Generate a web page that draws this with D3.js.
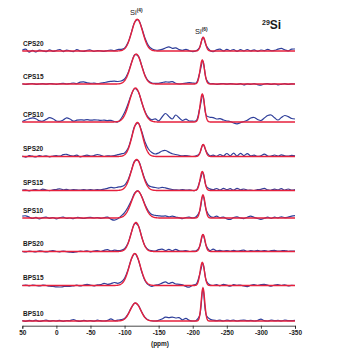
<!DOCTYPE html>
<html>
<head>
<meta charset="utf-8">
<script src="https://cdn.jsdelivr.net/npm/d3@7"></script>
<style>
  body { margin: 0; background: #fff; }
  text { font-family: 'Liberation Sans', Arial, sans-serif; fill: #1a1a1a; }
</style>
</head>
<body>
<div id="chart"></div>
<script>
// samples, top to bottom
const samples = ['CPS20', 'CPS15', 'CPS10', 'SPS20', 'SPS15', 'SPS10', 'BPS20', 'BPS15', 'BPS10']

// chemical shift grid of the measured spectra (ppm), 50 -> -350 step 5
const shifts = d3.range(50, -351, -5)
const xTicks = [50, 0, -50, -100, -150, -200, -250, -300, -350]

// measured spectra (a.u.), one value per shift
const expCPS20 = [
  0.8, 1.8, -1.2, 0.6, -1.0, 0.8, 0.2, -0.6, 1.2, -0.4,
  0.5, 1.5, -0.6, 0.9, 0.1, -0.6, 1.3, 0.0, -0.4, 0.7,
  1.0, -0.5, 0.4, 0.2, -0.4, 0.5, 0.8, 0.3, 1.5, 1.6,
  2.8, 8.3, 18.4, 29.0, 31.2, 23.5, 12.8, 5.4, 2.2, 1.0,
  0.8, 1.6, 3.0, 4.2, 2.6, 3.2, 1.4, 0.6, 1.6, 0.3,
  -0.6, 0.3, 3.4, 13.6, 5.2, 0.8, -0.6, 1.2, 1.8, 0.1,
  1.6, 0.3, 1.5, -0.3, 1.4, 0.2, 1.5, 0.1, 1.2, -0.3,
  1.0, 0.4, 1.6, 0.3, 0.6, 1.8, 2.6, 1.2, 0.2, 1.8,
  2.0]
const expCPS15 = [
  0.3, -0.5, 0.2, 0.5, -0.3, 0.0, 0.3, -0.2, 0.5, 0.2,
  -0.3, 0.3, 0.6, 0.0, 0.5, 1.0, 0.4, 1.8, 2.2, 1.2,
  0.6, 0.9, 0.5, 0.8, 1.3, 2.2, 2.6, 2.8, 2.5, 3.0,
  5.0, 11.0, 21.0, 29.2, 28.0, 18.8, 8.6, 3.0, 1.0, 0.6,
  0.6, 1.4, 2.2, 1.8, 2.4, 0.8, 0.0, 0.5, 0.9, 1.4,
  1.0, 0.9, 10.5, 23.0, 4.4, 0.5, 0.3, -0.4, 0.2, 0.5,
  -0.2, 0.3, 0.0, -0.5, 0.3, -0.9, 0.2, -0.4, 0.3, -0.6,
  -1.2, 0.0, 0.3, -0.5, 0.2, -0.8, -0.3, 0.3, -0.5, 0.2,
  0.0]
const expCPS10 = [
  0.5, 2.0, 3.2, 4.2, 3.2, 1.2, 0.8, 2.6, 4.4, 3.2,
  1.0, 0.6, 2.0, 4.2, 3.0, 0.8, 1.8, 2.2, 1.9, 2.3,
  1.8, 2.1, 2.0, 1.6, 1.9, 1.4, 1.7, 0.5, 0.0, 3.5,
  9.5, 18.0, 27.5, 33.5, 30.5, 20.0, 10.5, 4.5, 2.2, 3.2,
  1.2, 5.0, 8.5, 5.5, 3.0, 7.0, 4.2, 1.5, 2.8, 1.0,
  0.8, 1.2, 13.0, 26.5, 6.5, 4.8, 4.4, 3.0, 3.4, 2.0,
  1.0, 0.5, -1.0, -1.8, -0.6, 0.5, 1.8, 4.0, 4.5, 2.5,
  1.5, 4.0, 6.5, 7.0, 4.2, 2.0, 4.4, 6.5, 5.4, 3.5,
  3.0]
const expSPS20 = [
  0.5, -0.6, 0.8, 0.3, -0.5, 0.9, 0.0, 0.7, -0.3, 0.5,
  0.8, 0.3, 1.8, 2.2, 0.9, 0.4, 1.3, -0.3, 0.6, 1.4,
  0.3, 0.9, 2.0, 1.2, 0.0, 0.6, 0.5, 0.9, 1.8, 2.6,
  3.6, 8.0, 18.5, 30.5, 33.5, 25.5, 14.5, 7.5, 4.0, 2.5,
  3.5, 5.5, 6.0, 4.4, 2.8, 2.0, 1.2, 0.6, 1.0, 0.4,
  0.0, 0.6, 3.0, 12.0, 4.8, 0.8, 1.4, 0.2, 2.0, 0.5,
  3.0, 0.6, 3.4, 0.5, 3.2, 0.9, 2.8, 0.6, 1.4, 0.2,
  0.8, 2.4, 0.5, 0.3, 1.5, 0.4, 1.7, 0.6, 0.4, 1.2,
  0.7]
const expSPS15 = [
  0.3, 0.6, -0.3, 0.5, 0.9, 0.2, 1.4, 0.5, -0.2, 0.6,
  1.0, 1.7, 0.7, 1.2, 0.4, 0.8, 0.6, 0.3, 0.9, 0.5,
  0.8, 0.3, 0.9, 0.6, 1.4, 2.2, 3.2, 2.6, 3.4, 3.8,
  5.4, 10.5, 20.0, 29.5, 30.0, 21.0, 11.0, 5.0, 3.6, 3.0,
  2.4, 3.2, 2.6, 1.6, 1.0, 0.6, 0.4, 0.9, 0.3, 0.6,
  0.0, 0.4, 8.5, 18.0, 4.0, 1.6, 0.8, 2.0, 0.5, 2.1,
  0.8, 1.8, 0.4, 2.2, 0.7, 1.5, 0.3, 0.4, 0.0, 0.8,
  1.2, 2.1, 0.6, 0.3, 1.4, 0.6, 1.8, 0.4, 1.5, 0.3,
  0.9]
const expSPS10 = [
  1.8, 2.2, 0.9, -0.5, 0.6, -0.9, 0.3, 0.8, -0.3, 0.5,
  -0.8, 0.3, 0.9, -0.3, 0.0, -0.6, 0.5, 0.2, -0.5, 0.3,
  0.6, 0.0, 0.5, -0.3, 0.3, 0.8, -1.2, -2.2, -0.8, 2.0,
  5.4, 10.8, 17.5, 25.0, 27.0, 21.8, 13.4, 7.0, 3.4, 2.6,
  2.2, 1.8, 2.1, 1.2, 1.9, 0.9, 0.3, -0.6, 0.5, 0.8,
  0.0, 1.2, 6.5, 22.5, 7.5, 2.0, 0.6, 1.8, 0.3, 0.9,
  -0.9, -1.4, 0.5, 1.2, 0.0, -0.6, 0.8, 1.8, 0.6, -0.5,
  -1.3, -0.3, 0.8, -0.5, 0.9, 0.2, 1.2, 0.3, 0.9, 1.8,
  2.4]
const expBPS20 = [
  0.3, -0.5, 0.5, 0.0, -0.3, 0.6, 0.2, -0.5, 0.3, 0.8,
  0.0, -0.3, 0.5, -0.2, -0.6, -0.9, -0.3, 0.5, 0.0, 0.6,
  -0.3, 0.3, 0.9, 0.0, 1.2, 1.8, 0.6, 1.3, 0.9, 1.2,
  2.8, 8.2, 19.0, 28.0, 26.0, 15.0, 5.5, 1.8, 0.8, 0.4,
  1.8, 2.4, 0.9, 2.1, 0.7, 2.2, 0.6, 0.3, 0.9, 0.0,
  0.3, 0.6, 4.8, 16.8, 5.4, 0.9, 2.4, 0.6, 1.2, 0.3,
  1.0, 0.2, 1.2, 0.3, 0.8, 1.4, 0.2, 0.9, 0.3, 1.2,
  0.4, 0.9, 0.2, 0.8, 1.2, 0.3, 0.6, 1.0, 0.2, 0.5,
  0.3]
const expBPS15 = [
  0.0, 0.5, -0.3, 0.3, 0.0, -0.5, 0.3, 0.0, -0.6, -0.9,
  -1.3, -1.5, -1.2, -0.8, -0.9, -0.3, 0.3, -0.5, 0.5, 1.2,
  0.5, -0.3, 0.6, 0.9, 2.2, 1.2, 1.8, 3.0, 2.2, 3.4,
  7.2, 15.5, 26.5, 31.8, 26.0, 14.0, 4.8, 0.6, -1.0, 0.3,
  0.9, 2.4, 3.6, 2.0, 3.2, 1.5, 1.2, 0.6, -1.0, -1.6,
  0.3, 1.4, 10.5, 22.0, 4.6, 0.8, 0.0, 0.9, -0.3, 1.2,
  0.3, -0.6, 0.8, 0.2, 0.5, -0.5, -1.2, 0.3, 0.9, 0.0,
  0.8, 1.2, 0.3, -0.6, 0.5, 0.9, 0.0, 0.6, -0.3, 0.2,
  0.0]
const expBPS10 = [
  0.5, -0.3, 0.6, 0.0, 0.8, -0.5, 0.3, 0.9, -0.2, 0.5,
  0.0, 0.6, -0.3, 0.5, 0.3, 1.5, 0.2, -0.3, 0.6, 0.0,
  0.5, -0.2, 0.8, 0.3, 0.0, 0.6, 2.2, 0.5, 0.9, 1.4,
  2.6, 6.8, 13.4, 17.8, 15.8, 9.2, 3.6, 1.0, 0.2, 0.0,
  0.6, 2.0, 3.8, 3.4, 3.9, 3.0, 3.4, 1.2, 2.6, 0.6,
  0.0, 0.6, 5.2, 33.0, 5.6, 2.0, 0.8, 0.3, 0.8, 0.0,
  0.9, 0.4, 0.8, 0.0, 0.6, 0.9, 0.3, 0.6, 0.0, 0.5,
  1.8, 0.4, 0.0, 0.8, 0.3, 0.6, 0.2, 0.8, 0.4, 0.3,
  0.6]
const measured = [expCPS20, expCPS15, expCPS10, expSPS20, expSPS15, expSPS10, expBPS20, expBPS15, expBPS10]

// gaussian fit parameters: Si(4) and Si(6) components
const si4Center = [-118.5, -117, -116, -118.7, -117.7, -119, -116.7, -115, -116]
const si4Height = [31.7, 30, 34, 34, 31, 27, 29, 32, 18]
const si4Fwhm = [19, 19, 21, 18, 19, 21, 17, 19, 18]
const si6Center = [-215.4, -214, -214, -215.4, -214, -215, -215, -214, -215]
const si6Height = [13.7, 24, 28, 12, 19, 23, 17, 23, 33]
const si6Fwhm = [7.5, 7.5, 7.5, 7.5, 7.5, 7.5, 7.5, 7.5, 6]

// vertical stacking offset of each trace (a.u.)
const offsets = [270, 237, 199, 164.5, 130.5, 103, 69.5, 35.5, 0]

const W = 359, H = 352
const svg = d3.select('#chart').append('svg')
  .attr('width', W)
  .attr('height', H)

const x = d3.scaleLinear().domain([50, -350]).range([22.3, 295])
const y = d3.scaleLinear().domain([0, 300]).range([321, 21])

const gauss = (p, c, h, fwhm) => {
  const s = fwhm / 2.3548
  return h * Math.exp(-((p - c) * (p - c)) / (2 * s * s))
}

const fineShifts = d3.range(50, -350.5, -0.5)

samples.forEach((name, i) => {
  const off = offsets[i]
  const expLine = d3.line()
    .x((d, j) => x(shifts[j]))
    .y(d => y(off + d))
    .curve(d3.curveCatmullRom.alpha(0.5))
  svg.append('path')
    .attr('d', expLine(measured[i]))
    .attr('fill', 'none')
    .attr('stroke', '#2f3f9a')
    .attr('stroke-width', 1.2)

  const fitLine = d3.line()
    .x(p => x(p))
    .y(p => y(off + gauss(p, si4Center[i], si4Height[i], si4Fwhm[i]) + gauss(p, si6Center[i], si6Height[i], si6Fwhm[i])))
  svg.append('path')
    .attr('d', fitLine(fineShifts))
    .attr('fill', 'none')
    .attr('stroke', '#e6203c')
    .attr('stroke-width', 1.4)

  svg.append('text')
    .attr('x', 23)
    .attr('y', y(off) - 5.5)
    .attr('font-size', 6.5)
    .attr('font-weight', 'bold')
    .text(name)
})

// axis
const xAxis = d3.axisBottom(x)
  .tickValues(xTicks)
  .tickFormat(d => String(d))
  .tickSize(3)
  .tickPadding(2)
const gx = svg.append('g')
  .attr('transform', 'translate(0,325.7)')
  .attr('color', '#1a1a1a')
  .call(xAxis)
gx.select('.domain').attr('stroke-width', 0.8)
gx.selectAll('.tick line').attr('stroke-width', 0.8)
gx.selectAll('text')
  .attr('font-size', 6.5)
  .attr('font-weight', 'bold')
  .style('font-family', "'Liberation Sans', Arial, sans-serif")

svg.append('text')
  .attr('x', 160)
  .attr('y', 346)
  .attr('text-anchor', 'middle')
  .attr('font-size', 6.5)
  .attr('font-weight', 'bold')
  .text('(ppm)')

// peak labels
const peakLabel = (px, py, sup) => {
  const t = svg.append('text')
    .attr('x', px)
    .attr('y', py)
    .attr('font-size', 7.5)
  t.append('tspan').text('Si')
  t.append('tspan')
    .attr('dy', -3)
    .attr('font-size', 4.8)
    .attr('font-weight', 'bold')
    .text(sup)
}
peakLabel(130, 15, '(4)')
peakLabel(195, 33.5, '(6)')

const nuc = svg.append('text')
  .attr('x', 262)
  .attr('y', 29)
  .attr('font-weight', 'bold')
nuc.append('tspan').attr('font-size', 7).attr('dy', -4).text('29')
nuc.append('tspan').attr('font-size', 12).attr('dy', 4).text('Si')
</script>
</body>
</html>
